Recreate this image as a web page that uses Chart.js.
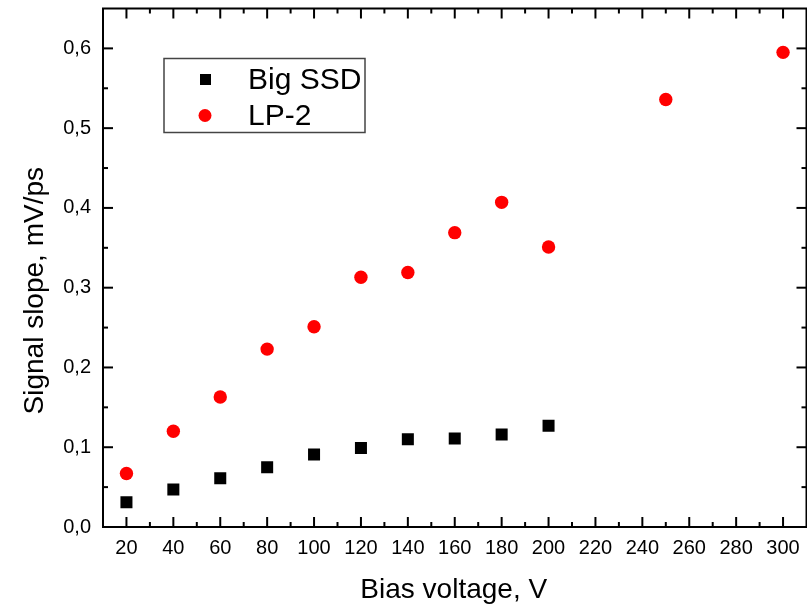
<!DOCTYPE html>
<html>
<head>
<meta charset="utf-8">
<script src="https://cdn.jsdelivr.net/npm/chart.js@4.4.1/dist/chart.umd.min.js"></script>
<style>
  html, body { margin: 0; padding: 0; background: #fff; overflow: hidden; }
  #wrap { position: absolute; left: 0; top: 0; width: 815px; height: 604px; }
</style>
</head>
<body>
<div id="wrap"><canvas id="chart" width="815" height="604"></canvas></div>
<script>
const ssdVoltages = [20, 40, 60, 80, 100, 120, 140, 160, 180, 200];
const ssdSlope = [0.031, 0.047, 0.061, 0.075, 0.091, 0.099, 0.110, 0.111, 0.116, 0.127];

const lpVoltages = [20, 40, 60, 80, 100, 120, 140, 160, 180, 200, 250, 300];
const lpSlope = [0.067, 0.120, 0.163, 0.223, 0.251, 0.313, 0.319, 0.369, 0.407, 0.351, 0.536, 0.595];

const xMajorTicks = [20, 40, 60, 80, 100, 120, 140, 160, 180, 200, 220, 240, 260, 280, 300];
const xMinorTicks = [30, 50, 70, 90, 110, 130, 150, 170, 190, 210, 230, 250, 270, 290];
const yMajorTicks = [0, 0.1, 0.2, 0.3, 0.4, 0.5, 0.6];
const yMinorTicks = [0.05, 0.15, 0.25, 0.35, 0.45, 0.55];

const xTitle = "Bias voltage, V";
const yTitle = "Signal slope, mV/ps";
const FONT = "'Liberation Sans', Arial, sans-serif";

function toPoints(xs, ys) {
  return xs.map((x, i) => ({ x, y: ys[i] }));
}

function formatComma(value) {
  return Number(value).toFixed(1).replace(".", ",");
}

// frame on all four sides with inward ticks, plus axis titles and the boxed legend
const framePlugin = {
  id: "frame",
  afterDraw(chart) {
    const { ctx, chartArea: area, scales } = chart;
    const xs = scales.x;
    const ys = scales.y;
    ctx.save();
    ctx.strokeStyle = "#000";
    ctx.lineWidth = 2;
    ctx.strokeRect(area.left, area.top, area.right - area.left, area.bottom - area.top);

    const tick = (x1, y1, x2, y2) => {
      ctx.beginPath();
      ctx.moveTo(x1, y1);
      ctx.lineTo(x2, y2);
      ctx.stroke();
    };

    xMajorTicks.forEach((v) => {
      const px = xs.getPixelForValue(v);
      tick(px, area.bottom, px, area.bottom - 10);
      tick(px, area.top, px, area.top + 10);
    });
    xMinorTicks.forEach((v) => {
      const px = xs.getPixelForValue(v);
      tick(px, area.bottom, px, area.bottom - 5);
      tick(px, area.top, px, area.top + 5);
    });
    yMajorTicks.forEach((v) => {
      const py = ys.getPixelForValue(v);
      tick(area.left, py, area.left + 10, py);
      tick(area.right, py, area.right - 10, py);
    });
    yMinorTicks.forEach((v) => {
      const py = ys.getPixelForValue(v);
      tick(area.left, py, area.left + 5, py);
      tick(area.right, py, area.right - 5, py);
    });

    // axis titles
    ctx.fillStyle = "#000";
    ctx.font = "28px " + FONT;
    ctx.textAlign = "center";
    ctx.textBaseline = "alphabetic";
    ctx.fillText(xTitle, (area.left + area.right) / 2 - 1, area.bottom + 71);
    ctx.save();
    ctx.translate(43, (area.top + area.bottom) / 2 + 23);
    ctx.rotate(-Math.PI / 2);
    ctx.fillText(yTitle, 0, 0);
    ctx.restore();

    // legend box
    const lx = area.left + 61;
    const ly = area.top + 50;
    ctx.strokeStyle = "#444";
    ctx.lineWidth = 1.5;
    ctx.strokeRect(lx, ly, 201, 74);
    ctx.textAlign = "left";
    ctx.textBaseline = "middle";
    ctx.font = "30px " + FONT;
    chart.data.datasets.forEach((ds, i) => {
      const cy = ly + 21 + i * 36;
      ctx.fillStyle = ds.backgroundColor;
      if (ds.pointStyle === "rect") {
        ctx.fillRect(lx + 36, cy - 5.5, 11, 11);
      } else {
        ctx.beginPath();
        ctx.arc(lx + 41, cy, 6.5, 0, Math.PI * 2);
        ctx.fill();
      }
      ctx.fillStyle = "#000";
      ctx.fillText(ds.label, lx + 84, cy + 1);
    });
    ctx.restore();
  }
};

new Chart(document.getElementById("chart"), {
  type: "scatter",
  data: {
    datasets: [
      {
        label: "Big SSD",
        data: toPoints(ssdVoltages, ssdSlope),
        pointStyle: "rect",
        pointRadius: 8.5,
        pointHoverRadius: 8.5,
        backgroundColor: "#000000",
        borderColor: "#000000",
        borderWidth: 0
      },
      {
        label: "LP-2",
        data: toPoints(lpVoltages, lpSlope),
        pointStyle: "circle",
        pointRadius: 6.7,
        pointHoverRadius: 6.7,
        backgroundColor: "#ff0000",
        borderColor: "#ff0000",
        borderWidth: 0
      }
    ]
  },
  options: {
    responsive: false,
    animation: false,
    devicePixelRatio: 1,
    layout: { padding: { top: 6, right: 4, left: 0, bottom: 0 } },
    plugins: {
      legend: { display: false },
      tooltip: { enabled: false }
    },
    scales: {
      x: {
        type: "linear",
        min: 10,
        max: 310,
        grid: { display: false, drawTicks: false },
        border: { display: false },
        afterBuildTicks: (scale) => {
          scale.ticks = xMajorTicks.map((v) => ({ value: v }));
        },
        afterFit: (scale) => {
          scale.height = 77;
          scale.paddingLeft = 0;
          scale.paddingRight = 0;
        },
        ticks: {
          padding: 9,
          color: "#000",
          maxRotation: 0,
          autoSkip: false,
          font: { family: FONT, size: 20 },
          callback: (v) => String(v)
        }
      },
      y: {
        type: "linear",
        min: 0,
        max: 0.65,
        grid: { display: false, drawTicks: false },
        border: { display: false },
        afterBuildTicks: (scale) => {
          scale.ticks = yMajorTicks.map((v) => ({ value: v }));
        },
        afterFit: (scale) => {
          scale.width = 103;
          scale.paddingTop = 0;
          scale.paddingBottom = 0;
        },
        ticks: {
          padding: 12,
          color: "#000",
          autoSkip: false,
          font: { family: FONT, size: 20 },
          callback: (v) => formatComma(v)
        }
      }
    }
  },
  plugins: [framePlugin]
});
</script>
</body>
</html>
